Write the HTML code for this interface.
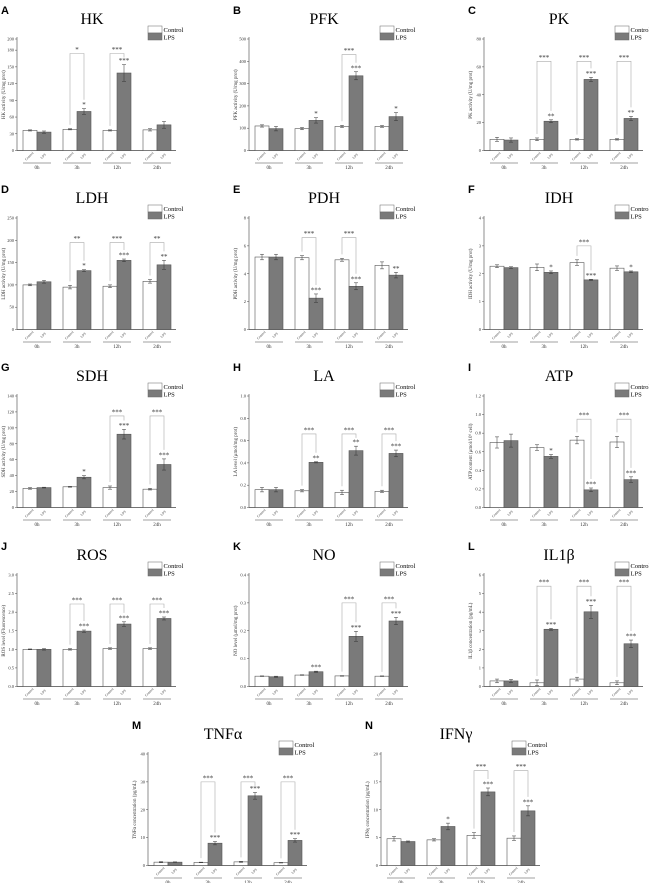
<!DOCTYPE html>
<html><head><meta charset="utf-8">
<style>
html,body{margin:0;padding:0;background:#fff;}
svg{display:block;}
text{font-family:"Liberation Serif",serif;}
</style></head>
<body>
<svg id="fig" width="649" height="883" viewBox="0 0 649 883" xmlns="http://www.w3.org/2000/svg"></svg>
<script>
const timepoints = ["0h","3h","12h","24h"];
// HK
const hkControl=[36,38,36,37], hkControlErr=[1,1,1,2], hkLps=[33,70,139,46], hkLpsErr=[2,5,15,6];
// PFK
const pfkControl=[110,98,108,108], pfkControlErr=[5,5,5,4], pfkLps=[98,135,335,152], pfkLpsErr=[10,12,18,18];
// PK
const pkControl=[8,8,8,8], pkControlErr=[1.5,1,0.5,0.5], pkLps=[7.5,21,51,23], pkLpsErr=[1.5,1,1.5,1.5];
// LDH
const ldhControl=[100,95,97,108], ldhControlErr=[2,4,3,4], ldhLps=[107,132,155,145], ldhLpsErr=[3,2,3,10];
// PDH
const pdhControl=[5.2,5.15,5.0,4.6], pdhControlErr=[0.2,0.15,0.1,0.25], pdhLps=[5.2,2.25,3.1,3.9], pdhLpsErr=[0.2,0.3,0.25,0.2];
// IDH
const idhControl=[2.27,2.23,2.4,2.2], idhControlErr=[0.05,0.12,0.1,0.08], idhLps=[2.22,2.05,1.78,2.07], idhLpsErr=[0.03,0.05,0.02,0.03];
// SDH
const sdhControl=[24,26,25,23], sdhControlErr=[1,0.5,2,1], sdhLps=[25,38,92,54], sdhLpsErr=[0.5,2,6,7];
// LA
const laControl=[0.16,0.15,0.135,0.145], laControlErr=[0.02,0.01,0.02,0.01], laLps=[0.16,0.405,0.51,0.485], laLpsErr=[0.02,0.005,0.04,0.03];
// ATP
const atpControl=[0.70,0.645,0.725,0.705], atpControlErr=[0.06,0.03,0.04,0.06], atpLps=[0.72,0.55,0.19,0.30], atpLpsErr=[0.07,0.02,0.02,0.03];
// ROS
const rosControl=[1,1,1.02,1.02], rosControlErr=[0.01,0.02,0.02,0.02], rosLps=[1,1.49,1.68,1.83], rosLpsErr=[0.02,0.03,0.06,0.04];
// NO
const noControl=[0.037,0.041,0.038,0.037], noControlErr=[0.001,0.001,0.001,0.001], noLps=[0.035,0.053,0.18,0.235], noLpsErr=[0.002,0.002,0.018,0.013];
// IL1b
const il1Control=[0.3,0.2,0.4,0.2], il1ControlErr=[0.1,0.15,0.1,0.1], il1Lps=[0.3,3.08,4.02,2.3], il1LpsErr=[0.08,0.05,0.35,0.2];
// TNFa
const tnfControl=[1.2,1.1,1.3,1.0], tnfControlErr=[0.2,0.1,0.2,0.1], tnfLps=[1.2,8.0,25,9], tnfLpsErr=[0.1,0.6,1.2,0.6];
// IFNg
const ifnControl=[4.8,4.6,5.4,4.9], ifnControlErr=[0.4,0.2,0.5,0.4], ifnLps=[4.3,7.0,13.2,9.8], ifnLpsErr=[0.1,0.6,0.7,0.9];

const panels = [
 {id:"A",title:"HK",ox:0,oy:0,max:200,ticks:[0,30,60,90,120,150,180,200],ylab:"HK activity (U/mg prot)",c:hkControl,ce:hkControlErr,l:hkLps,le:hkLpsErr,sig:["","*","***",""],br:["","*","***",""],bh:174},
 {id:"B",title:"PFK",ox:232,oy:0,max:500,ticks:[0,100,200,300,400,500],ylab:"PFK activity (U/mg prot)",c:pfkControl,ce:pfkControlErr,l:pfkLps,le:pfkLpsErr,sig:["","*","***","*"],br:["","","***",""],bh:430},
 {id:"C",title:"PK",ox:467,oy:0,max:80,ticks:[0,20,40,60,80],ylab:"PK activity (U/mg prot)",c:pkControl,ce:pkControlErr,l:pkLps,le:pkLpsErr,sig:["","**","***","**"],br:["","***","***","***"],bh:64},
 {id:"D",title:"LDH",ox:0,oy:179,max:250,ticks:[0,50,100,150,200,250],ylab:"LDH activity (U/mg prot)",c:ldhControl,ce:ldhControlErr,l:ldhLps,le:ldhLpsErr,sig:["","*","***","**"],br:["","**","***","**"],bh:195},
 {id:"E",title:"PDH",ox:232,oy:179,max:8,ticks:[0,2,4,6,8],ylab:"PDH activity (U/mg prot)",c:pdhControl,ce:pdhControlErr,l:pdhLps,le:pdhLpsErr,sig:["","***","***","**"],br:["","***","***",""],bh:6.6},
 {id:"F",title:"IDH",ox:467,oy:179,max:4,ticks:[0,1,2,3,4],ylab:"IDH activity (U/mg prot)",c:idhControl,ce:idhControlErr,l:idhLps,le:idhLpsErr,sig:["","*","***","*"],br:["","","***",""],bh:3.0},
 {id:"G",title:"SDH",ox:0,oy:357,max:140,ticks:[0,20,40,60,80,100,120,140],ylab:"SDH activity (U/mg prot)",c:sdhControl,ce:sdhControlErr,l:sdhLps,le:sdhLpsErr,sig:["","*","***","***"],br:["","","***","***"],bh:115},
 {id:"H",title:"LA",ox:232,oy:357,max:1.0,ticks:[0,0.2,0.4,0.6,0.8,1.0],ylab:"LA level (μmol/mg prot)",c:laControl,ce:laControlErr,l:laLps,le:laLpsErr,sig:["","**","**","***"],br:["","***","***","***"],bh:0.66},
 {id:"I",title:"ATP",ox:467,oy:357,max:1.2,ticks:[0,0.2,0.4,0.6,0.8,1.0,1.2],ylab:"ATP content (μmol/10⁶ cell)",c:atpControl,ce:atpControlErr,l:atpLps,le:atpLpsErr,sig:["","*","***","***"],br:["","","***","***"],bh:0.95},
 {id:"J",title:"ROS",ox:0,oy:536,max:3.0,ticks:[0,0.5,1.0,1.5,2.0,2.5,3.0],ylab:"ROS level (Fluorescence)",c:rosControl,ce:rosControlErr,l:rosLps,le:rosLpsErr,sig:["","***","***","***"],br:["","***","***","***"],bh:2.22},
 {id:"K",title:"NO",ox:232,oy:536,max:0.4,ticks:[0,0.1,0.2,0.3,0.4],ylab:"NO level (μmol/mg prot)",c:noControl,ce:noControlErr,l:noLps,le:noLpsErr,sig:["","***","***","***"],br:["","","***","***"],bh:0.3},
 {id:"L",title:"IL1β",ox:467,oy:536,max:6,ticks:[0,1,2,3,4,5,6],ylab:"IL1β concentration (pg/mL)",c:il1Control,ce:il1ControlErr,l:il1Lps,le:il1LpsErr,sig:["","***","***","***"],br:["","***","***","***"],bh:5.4},
 {id:"M",title:"TNFα",ox:131,oy:715,max:40,ticks:[0,10,20,30,40],ylab:"TNFα concentration (pg/mL)",c:tnfControl,ce:tnfControlErr,l:tnfLps,le:tnfLpsErr,sig:["","***","***","***"],br:["","***","***","***"],bh:30},
 {id:"N",title:"IFNγ",ox:364,oy:715,max:20,ticks:[0,5,10,15,20],ylab:"IFNγ concentration (pg/mL)",c:ifnControl,ce:ifnControlErr,l:ifnLps,le:ifnLpsErr,sig:["","*","***","***"],br:["","","***","***"],bh:17}
];

const NS="http://www.w3.org/2000/svg";
const svg=document.getElementById("fig");
function mk(tag,attrs,parent,txt){const e=document.createElementNS(NS,tag);for(const k in attrs)e.setAttribute(k,attrs[k]);if(txt!==undefined)e.textContent=txt;parent.appendChild(e);return e;}

const AX=17, TOP=39, BOT=150.5, BW=14;
panels.forEach(p=>{
  const g=mk("g",{transform:`translate(${p.ox},${p.oy})`},svg);
  
  
  const y=v=>BOT-(v/p.max)*(BOT-TOP);
  const xb=(i,s)=>23+40*i+s*BW;
  const dec=Math.max(...p.ticks.map(v=>{const s=String(v);return s.includes('.')?s.split('.')[1].length:0;}));
  const lab=mk("text",{x:1,y:14,"font-size":11,"font-weight":"bold",style:"font-family:'Liberation Sans',sans-serif"},g,p.id);
  
  
  const t=mk("text",{x:92,y:24,"font-size":16,"text-anchor":"middle"},g,p.title);
  
  
  const lg=mk("g",{},g);
  
  
  mk("rect",{x:148,y:26,width:14,height:7,fill:"#fff",stroke:"#666","stroke-width":0.5},lg);
  mk("rect",{x:148,y:33,width:14,height:7,fill:"#7a7a7a",stroke:"#666","stroke-width":0.5},lg);
  mk("text",{x:163.5,y:32,"font-size":6.5},lg,"Control");
  mk("text",{x:163.5,y:39.5,"font-size":6.5},lg,"LPS");
  const ya=mk("g",{},g);
  
  
  mk("line",{x1:AX,y1:TOP-2,x2:AX,y2:BOT,stroke:"#444","stroke-width":0.6},ya);
  p.ticks.forEach(v=>{
    mk("line",{x1:AX-2,y1:y(v),x2:AX,y2:y(v),stroke:"#444","stroke-width":0.5},ya);
    mk("text",{x:AX-3,y:y(v)+1.5,"font-size":4.5,"text-anchor":"end",fill:"#333"},ya,v.toFixed(dec));
  });
  const yl=mk("text",{x:0,y:0,"font-size":5,"text-anchor":"middle",fill:"#333",transform:`translate(5,${(TOP+BOT)/2}) rotate(-90)`},g,p.ylab);
  
  
  mk("line",{x1:AX,y1:BOT,x2:176,y2:BOT,stroke:"#444","stroke-width":0.7},g);
  timepoints.forEach((tp,i)=>{
    [[p.c[i],p.ce[i],"#fff","control"],[p.l[i],p.le[i],"#7a7a7a","lps"]].forEach((d,s)=>{
      const x=xb(i,s);
      const r=mk("rect",{x:x,y:y(d[0]),width:BW,height:BOT-y(d[0]),fill:d[2],stroke:"#555","stroke-width":0.6},g);
      
      
      const cx=x+BW/2;
      mk("line",{x1:cx,y1:y(d[0]-d[1]),x2:cx,y2:y(d[0]+d[1]),stroke:"#333","stroke-width":0.5},g);
      mk("line",{x1:cx-2,y1:y(d[0]+d[1]),x2:cx+2,y2:y(d[0]+d[1]),stroke:"#333","stroke-width":0.5},g);
      mk("line",{x1:cx-2,y1:y(d[0]-d[1]),x2:cx+2,y2:y(d[0]-d[1]),stroke:"#333","stroke-width":0.5},g);
      mk("text",{x:0,y:0,"font-size":3.5,"text-anchor":"middle",fill:"#444",transform:`translate(${cx},157) rotate(-45)`},g,s?"LPS":"Control");
    });
    const lpsTop=y(p.l[i]+p.le[i]);
    if(p.sig[i]){
      const st=mk("text",{x:xb(i,1)+BW/2,y:lpsTop-1.5,"font-size":7,"text-anchor":"middle",fill:"#333"},g,p.sig[i]);
      
      
    }
    if(p.br[i]){
      const by=y(p.bh), cx0=xb(i,0)+BW/2, cx1=xb(i,1)+BW/2;
      const cTop=y(p.c[i]+p.ce[i])-4, lEnd=Math.max(by+4,lpsTop-9);
      mk("polyline",{points:`${cx0},${cTop} ${cx0},${by} ${cx1},${by} ${cx1},${lEnd}`,fill:"none",stroke:"#aaa","stroke-width":0.6},g);
      const bt=mk("text",{x:(cx0+cx1)/2,y:by-1.5,"font-size":7,"text-anchor":"middle",fill:"#333"},g,p.br[i]);
      
      
    }
    const x0=xb(i,0);
    mk("line",{x1:x0,y1:163,x2:x0+2*BW,y2:163,stroke:"#444","stroke-width":0.6},g);
    const tl=mk("text",{x:x0+BW,y:169,"font-size":5,"text-anchor":"middle",fill:"#333"},g,tp);
    
    
  });
});
</script>
</body></html>
